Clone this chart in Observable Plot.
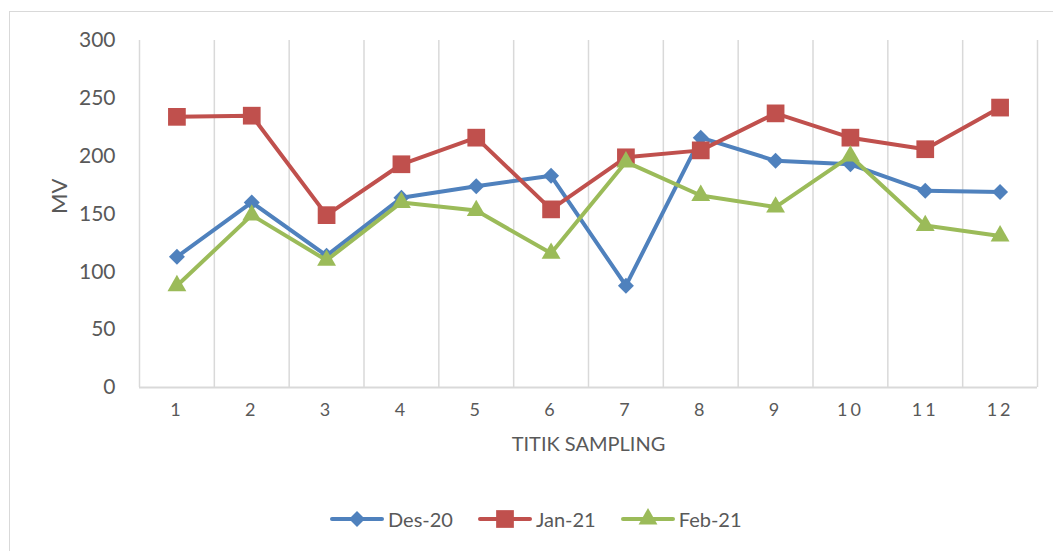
<!DOCTYPE html>
<html><head><meta charset="utf-8">
<script src="https://cdn.jsdelivr.net/npm/d3@7"></script>
<script src="https://cdn.jsdelivr.net/npm/@observablehq/plot@0.6"></script>
<style>
html,body{margin:0;padding:0;background:#fff;overflow:hidden;}
#wrap{position:relative;width:1053px;height:551px;overflow:hidden;font-family:Lato,"Open Sans",sans-serif;color:#595959;}
#frame{position:absolute;left:9px;top:11px;width:1080px;height:600px;border:1px solid #d9d9d9;box-sizing:border-box;}
#chart{position:absolute;left:0;top:0;}
#legend{position:absolute;left:330px;top:506px;display:flex;align-items:center;font-size:20px;height:26px;}
.item{display:flex;align-items:center;margin-right:25px;}
.item svg{margin-right:4px;}
</style></head>
<body>
<div id="wrap"><div id="frame"></div><div id="chart"></div><div id="legend"></div></div>
<script>
const categories = [1,2,3,4,5,6,7,8,9,10,11,12];
const tickLabels = ["1","2","3","4","5","6","7","8","9","10","11","12"];
const yTicks = [0,50,100,150,200,250,300];
const seriesNames = ["Des-20","Jan-21","Feb-21"];
const des20 = [113,160,114,164,174,183,88,216,196,193,170,169];
const jan21 = [234,235,149,193,216,154,199,205,237,216,206,242];
const feb21 = [88,149,110,160,153,116,195,166,156,200,140,131];
const seriesColors = ["#4F81BD","#C0504D","#9BBB59"];
const seriesSymbols = ["diamond2","square","triangle"];
const seriesR = [7.2,10,7];
const xTitle = "TITIK SAMPLING";
const yTitle = "MV";

const seriesValues = [des20, jan21, feb21];
const data = seriesNames.flatMap((s,i)=>categories.map((c,j)=>({cat:c, value:seriesValues[i][j], series:s})));
const boundaries = [categories[0]-0.5, ...categories.map(c=>c+0.5)];

const seriesMarks = seriesNames.flatMap((s,i)=>[
  Plot.line(data, {filter:d=>d.series===s, x:"cat", y:"value", stroke:seriesColors[i], strokeWidth:4, strokeLinejoin:"round"}),
  Plot.dot(data, {filter:d=>d.series===s, x:"cat", y:"value", symbol:seriesSymbols[i], r:seriesR[i], fill:seriesColors[i], stroke:"none"})
]);

const chart = Plot.plot({
  width:1053, height:480,
  marginTop:40, marginLeft:139, marginRight:16, marginBottom:93,
  style:{fontFamily:"Lato, 'Open Sans', sans-serif", color:"#595959", background:"transparent", overflow:"visible"},
  x:{type:"linear", domain:[boundaries[0], boundaries[boundaries.length-1]]},
  y:{domain:[0,300]},
  marks:[
    Plot.ruleX(boundaries, {stroke:"#d9d9d9", strokeWidth:1.5}),
    Plot.ruleY([0], {stroke:"#d9d9d9", strokeWidth:2}),
    Plot.axisY({ticks:yTicks, tickSize:0, tickPadding:24, fontSize:21, label:null}),
    Plot.axisX({ticks:categories, tickSize:0, tickPadding:16, fontSize:18, label:null, tickFormat:d=>tickLabels[categories.indexOf(d)]}),
    Plot.text([yTitle], {frameAnchor:"left", dx:-80, rotate:-90, fontSize:22, fill:"#595959"}),
    Plot.text([xTitle], {frameAnchor:"bottom", dy:63, fontSize:20, fill:"#595959"}),
    ...seriesMarks
  ]
});
d3.select(chart).selectAll('g[aria-label="x-axis tick label"] text').attr("letter-spacing","3px");
document.getElementById("chart").appendChild(chart);

const legend = d3.select("#legend");
seriesNames.forEach((s,i)=>{
  const item = legend.append("div").attr("class","item");
  const svg = item.append("svg").attr("width",54).attr("height",22);
  svg.append("line").attr("x1",2).attr("x2",52).attr("y1",11).attr("y2",11)
    .attr("stroke",seriesColors[i]).attr("stroke-width",4).attr("stroke-linecap","round");
  const symType = {diamond2:d3.symbolDiamond2, square:d3.symbolSquare, triangle:d3.symbolTriangle}[seriesSymbols[i]];
  svg.append("path").attr("transform","translate(27,11)")
    .attr("d", d3.symbol(symType, Math.PI*seriesR[i]*seriesR[i])())
    .attr("fill",seriesColors[i]);
  item.append("span").text(s);
});
</script>
</body></html>
